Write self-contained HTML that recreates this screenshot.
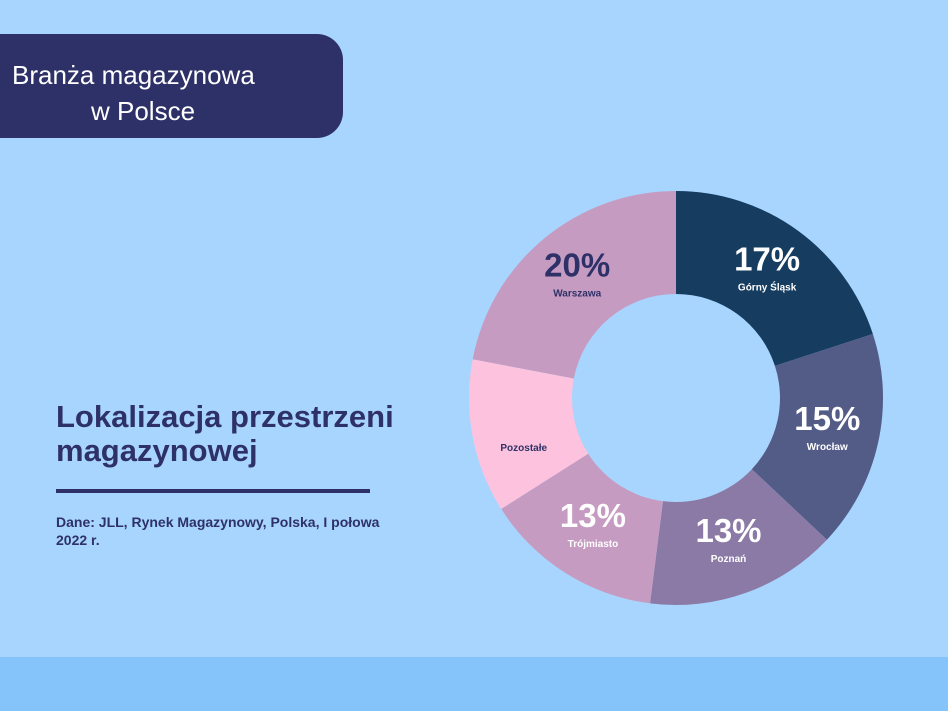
<!DOCTYPE html>
<html><head><meta charset="utf-8"><style>
body{margin:0;width:948px;height:711px;background:#a8d5fe;position:relative;overflow:hidden;font-family:"Liberation Sans",sans-serif}
.hdr{position:absolute;left:0;top:34px;width:343px;height:104px;background:#2e3168;border-radius:0 26px 26px 0;color:#fff;font-size:26px;line-height:36px}
.title{position:absolute;left:56px;top:400px;color:#2e3168;font-size:31px;font-weight:bold;line-height:34px}
.rule{position:absolute;left:56px;top:489px;width:314px;height:4px;background:#2e3168}
.src{position:absolute;left:56px;top:513px;color:#2e3168;font-size:14px;font-weight:bold;line-height:18px}
.band{position:absolute;left:0;top:657px;width:948px;height:54px;background:#84c4fb}
svg{position:absolute;left:0;top:0}
</style></head><body>
<div class="hdr"><div style="position:absolute;left:12px;top:23px">Branża magazynowa</div><div style="position:absolute;left:91px;top:59px">w Polsce</div></div>
<div class="title">Lokalizacja przestrzeni<br>magazynowej</div>
<div class="rule"></div>
<div class="src">Dane: JLL, Rynek Magazynowy, Polska, I połowa<br>2022 r.</div>
<div class="band"></div>
<svg id="chart" width="948" height="711"></svg>
<script>
const categories=["Górny Śląsk","Wrocław","Poznań","Trójmiasto","Pozostałe","Warszawa"];
const values=[20,17,15,14,12,22];
const printed=["17%","15%","13%","13%","","20%"];
const colors=["#163c60","#535b87","#8b7aa6","#c69bc1","#fdc3de","#c69bc1"];
const textColors=["#fff","#fff","#fff","#fff","#2e3168","#2e3168"];
const cx=676,cy=398,R=207,r=104;
const svg=document.getElementById('chart');
const NS='http://www.w3.org/2000/svg';
const total=values.reduce((a,b)=>a+b,0);
function pt(a,rad){return [cx+rad*Math.sin(a),cy-rad*Math.cos(a)];}
let acc=0;
values.forEach((v,i)=>{
  const a0=acc/total*2*Math.PI; acc+=v; const a1=acc/total*2*Math.PI;
  const lg=(a1-a0)>Math.PI?1:0;
  const [x0,y0]=pt(a0,R),[x1,y1]=pt(a1,R),[x2,y2]=pt(a1,r),[x3,y3]=pt(a0,r);
  const p=document.createElementNS(NS,'path');
  p.setAttribute('d',`M${x0},${y0}A${R},${R} 0 ${lg} 1 ${x1},${y1}L${x2},${y2}A${r},${r} 0 ${lg} 0 ${x3},${y3}Z`);
  p.setAttribute('fill',colors[i]);
  
  
  svg.appendChild(p);
  const [lx,ly]=pt((a0+a1)/2,155);
  if(printed[i]){
    const t=document.createElementNS(NS,'text');
    t.setAttribute('x',lx);t.setAttribute('y',ly-2);
    t.setAttribute('text-anchor','middle');t.setAttribute('font-size','33');t.setAttribute('font-weight','bold');
    t.setAttribute('fill',textColors[i]);t.setAttribute('font-family','Liberation Sans, sans-serif');
    t.textContent=printed[i];
    
    
    svg.appendChild(t);
  }
  const n=document.createElementNS(NS,'text');
  n.setAttribute('x',lx);n.setAttribute('y',printed[i]?ly+18:ly+24);
  n.setAttribute('text-anchor','middle');n.setAttribute('font-size','10');n.setAttribute('font-weight','bold');
  n.setAttribute('fill',textColors[i]);n.setAttribute('font-family','Liberation Sans, sans-serif');
  n.textContent=categories[i];
  
  
  svg.appendChild(n);
});
</script>
</body></html>
